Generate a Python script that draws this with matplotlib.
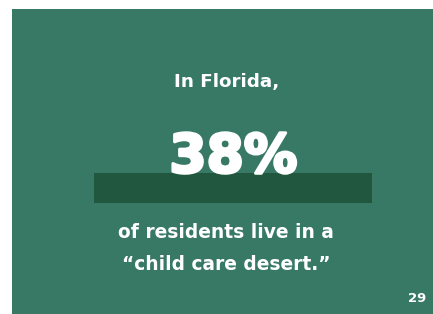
import matplotlib
matplotlib.use("Agg")
import matplotlib.pyplot as plt
from matplotlib.patches import Rectangle
import matplotlib.patheffects as pe

# Data
state = "Florida"
share_pct = [38]
headline = ["In Florida,"]
caption_lines = ["of residents live in a", "\u201cchild care desert.\u201d"]
page_number = ["29"]

W, H = 433, 314
fig = plt.figure(figsize=(W / 100, H / 100), dpi=100)
fig.patch.set_facecolor("white")
ax = fig.add_axes([0, 0, 1, 1])
ax.set_xlim(0, W)
ax.set_ylim(H, 0)
ax.axis("off")

green = "#387966"
dark = "#22573f"
ax.add_patch(Rectangle((12, 9), W - 12, H - 9, facecolor=green, edgecolor="none", zorder=0))

# highlight bar under the figure
ax.barh([188], [372 - 94], left=94, height=30, color=dark, zorder=1)

fam = "DejaVu Sans"
ax.text(226.5, 86.5, headline[0], ha="center", va="baseline", color="white",
        fontsize=13.2, fontweight="bold", family=fam, zorder=3)
ax.text(233.5, 172.5, f"{share_pct[0]}%", ha="center", va="baseline", color="white",
        fontsize=38.5, fontweight="bold", family=fam, zorder=3,
        path_effects=[pe.withStroke(linewidth=2.2, foreground="white")])
ax.text(226, 238, caption_lines[0], ha="center", va="baseline", color="white",
        fontsize=13.4, fontweight="bold", family=fam, zorder=3)
ax.text(226, 270, caption_lines[1], ha="center", va="baseline", color="white",
        fontsize=13.4, fontweight="bold", family=fam, zorder=3)
ax.text(417, 302, page_number[0], ha="center", va="baseline", color="white",
        fontsize=9.5, fontweight="bold", family=fam, zorder=3)

fig.savefig("out.png", dpi=100, facecolor="white")
